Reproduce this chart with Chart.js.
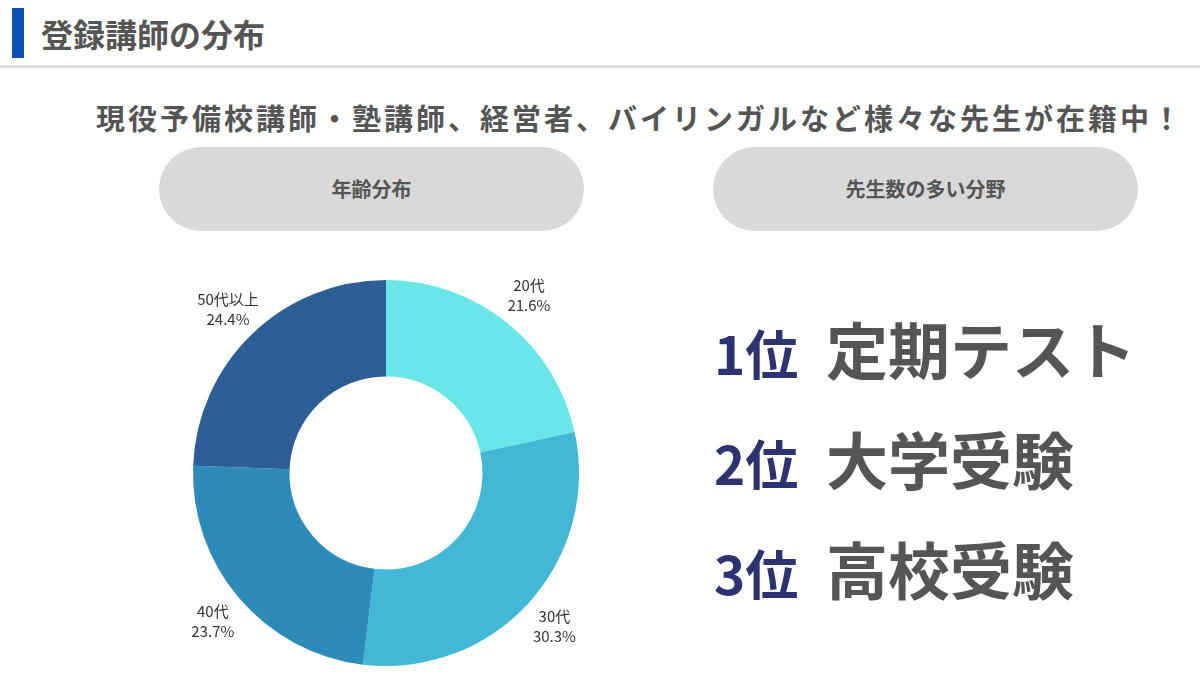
<!DOCTYPE html>
<html lang="ja">
<head>
<meta charset="utf-8">
<script src="https://cdn.jsdelivr.net/npm/chart.js@4/dist/chart.umd.min.js"></script>
<style>
  html, body { margin: 0; padding: 0; background: #fff; }
  body { width: 1200px; height: 681px; position: relative; overflow: hidden;
         font-family: "Noto Sans CJK JP", "Noto Sans", sans-serif; color: #555; }
  .bar { position: absolute; left: 12px; top: 8px; width: 12px; height: 50px; background: #0b4fb4; }
  .title { position: absolute; left: 41px; top: 11px; font-size: 32px; font-weight: 700; line-height: 44px; color: #555; }
  .rule { position: absolute; left: 0; top: 65px; width: 1200px; height: 3px; background: #dcdcdc; }
  .sub { position: absolute; left: 96px; top: 96px; font-size: 29px; font-weight: 700; letter-spacing: 3px;
         line-height: 42px; color: #555; white-space: nowrap; }
  .pill { position: absolute; top: 147px; width: 425px; height: 84px; border-radius: 42px; background: #d9d9d9;
          font-size: 20px; font-weight: 700; color: #555; text-align: center; line-height: 84px; }
  #wrap { position: absolute; left: 150px; top: 245px; width: 472px; height: 436px; }
  .rank { position: absolute; left: 714px; white-space: nowrap; line-height: 70px; }
  .rank .n { font-size: 53px; font-weight: 700; color: #2d3370; display: inline-block; width: 112px; }
  .rank .t { font-size: 62px; font-weight: 700; color: #555; }
</style>
</head>
<body>
<div class="bar"></div>
<div class="title">登録講師の分布</div>
<div class="rule"></div>
<div class="sub">現役予備校講師・塾講師、経営者、バイリンガルなど様々な先生が在籍中！</div>
<div class="pill" style="left:159px">年齢分布</div>
<div class="pill" style="left:713px">先生数の多い分野</div>
<div id="wrap"><canvas id="pie-chart"></canvas></div>
<div id="ranks"></div>
<script>
const ageLabels = ['20代', '30代', '40代', '50代以上'];
const ageShares = [21.6, 30.3, 23.7, 24.4];
const ageColors = ['#6ae5e8', '#42b8d6', '#2d8bba', '#2e5e96'];

const rankNames = ['1位', '2位', '3位'];
const rankFields = ['定期テスト', '大学受験', '高校受験'];

// ranking text on the right
const ranks = document.getElementById('ranks');
rankNames.forEach((r, i) => {
  const d = document.createElement('div');
  d.className = 'rank';
  d.style.top = (313 + i * 110) + 'px';
  d.innerHTML = '<span class="n">' + r + '</span><span class="t">' + rankFields[i] + '</span>';
  ranks.appendChild(d);
});

// draw the "label / value%" text outside each slice
const outsideLabels = {
  id: 'outsideLabels',
  afterDatasetsDraw(chart) {
    const c = chart.ctx;
    const meta = chart.getDatasetMeta(0);
    c.save();
    c.font = '15px "Noto Sans CJK JP", sans-serif';
    c.fillStyle = '#333';
    c.textAlign = 'center';
    c.textBaseline = 'middle';
    meta.data.forEach((arc, i) => {
      const mid = (arc.startAngle + arc.endAngle) / 2;
      const r = arc.outerRadius * 1.18;
      const x = arc.x + Math.cos(mid) * r;
      const y = arc.y + Math.sin(mid) * r;
      c.fillText(ageLabels[i], x, y - 10);
      c.fillText(ageShares[i].toFixed(1) + '%', x, y + 10);
    });
    c.restore();
  }
};

const ctx = document.getElementById('pie-chart').getContext('2d');
const chart = new Chart(ctx, {
  type: 'doughnut',
  data: {
    labels: ageLabels,
    datasets: [{
      data: ageShares,
      backgroundColor: ageColors,
      borderWidth: 0
    }]
  },
  options: {
    responsive: true,
    maintainAspectRatio: false,
    animation: false,
    cutout: '50%',
    layout: { padding: { left: 43, right: 43, top: 35, bottom: 15 } },
    plugins: {
      legend: { display: false },
      tooltip: { enabled: false }
    }
  },
  plugins: [outsideLabels]
});
</script>
</body>
</html>
